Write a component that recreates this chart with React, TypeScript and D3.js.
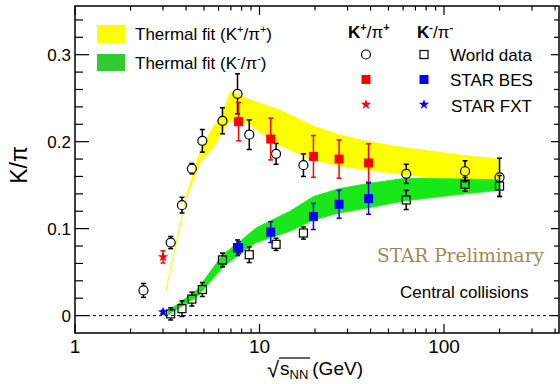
import * as d3 from "d3";

// K+/pi+ world data (open circles)
const worldKpE = [2.35, 3.3, 3.8, 4.3, 4.9, 6.3, 7.6, 8.8, 12.3, 17.3, 62.4, 130, 200];
const worldKpV = [0.029, 0.084, 0.127, 0.169, 0.201, 0.224, 0.255, 0.208, 0.186, 0.173, 0.163, 0.166, 0.159];
const worldKpErr = [0.008, 0.007, 0.009, 0.006, 0.013, 0.015, 0.023, 0.017, 0.012, 0.013, 0.011, 0.012, 0.022];

// K-/pi- world data (open squares)
const worldKmE = [3.3, 3.8, 4.3, 4.9, 6.3, 7.6, 8.8, 12.3, 17.3, 62.4, 130, 200];
const worldKmV = [0.002, 0.008, 0.019, 0.03, 0.064, 0.078, 0.07, 0.082, 0.095, 0.133, 0.151, 0.149];
const worldKmErr = [0.007, 0.009, 0.008, 0.008, 0.008, 0.009, 0.009, 0.007, 0.007, 0.011, 0.008, 0.012];

// STAR BES
const besE = [7.7, 11.5, 19.6, 27, 39];
const besKpV = [0.223, 0.203, 0.183, 0.18, 0.1755];
const besKpErr = [0.022, 0.024, 0.024, 0.022, 0.022];
const besKmV = [0.078, 0.096, 0.114, 0.128, 0.1345];
const besKmErr = [0.007, 0.012, 0.015, 0.016, 0.018];

// STAR FXT
const fxtE = [3.0];
const fxtKpV = [0.0675];
const fxtKpErr = [0.007];
const fxtKmV = [0.004];
const fxtKmErr = [0.002];

// thermal fit bands
const thermKpE = [3.1, 4.0, 4.3, 4.8, 5.6, 6.2, 6.95, 8.5, 10.5, 13, 19.6, 27, 39, 62, 130, 200];
const thermKpLo = [0.0275, 0.134, 0.152, 0.177, 0.193, 0.21, 0.224, 0.222, 0.208, 0.195, 0.179, 0.172, 0.167, 0.162, 0.155, 0.154];
const thermKpHi = [0.0285, 0.137, 0.159, 0.191, 0.217, 0.229, 0.258, 0.25, 0.243, 0.236, 0.218, 0.208, 0.2, 0.193, 0.184, 0.18];

const thermKmE = [3.2, 4.6, 6.3, 7.7, 9.6, 14.6, 19.6, 27, 39, 62, 130, 200];
const thermKmLo = [0.001, 0.022, 0.055, 0.07, 0.084, 0.097, 0.11, 0.118, 0.124, 0.132, 0.14, 0.144];
const thermKmHi = [0.005, 0.03, 0.07, 0.084, 0.101, 0.12, 0.137, 0.146, 0.152, 0.158, 0.157, 0.156];

const xMajor = [1, 10, 100];
const xMinor = [2, 3, 4, 5, 6, 7, 8, 9, 20, 30, 40, 50, 60, 70, 80, 90, 200, 300, 400];
const yMajor = [0, 0.1, 0.2, 0.3];
const yMinor = [0.02, 0.04, 0.06, 0.08, 0.12, 0.14, 0.16, 0.18, 0.22, 0.24, 0.26, 0.28, 0.32, 0.34];

const font = "'Liberation Sans', Arial, Helvetica, sans-serif";

const width = 560;
const height = 384;
const left = 75, right = 559, top = 6, bottom = 333;

const x = d3.scaleLog().domain([1, 420]).range([left, right]);
const y = d3.scaleLinear().domain([-0.02, 0.356]).range([bottom, top]);

const ErrBar = ({ e, v, err, gap, color }: { e: number; v: number; err: number; gap: number; color: string }) => {
  const cx = x(e);
  const yTop = y(v + err);
  const yBot = y(v - err);
  const cy = y(v);
  return (
    <g stroke={color} strokeWidth={1.5}>
      {cy - gap > yTop && <line x1={cx} x2={cx} y1={yTop} y2={cy - gap} />}
      {cy + gap < yBot && <line x1={cx} x2={cx} y1={cy + gap} y2={yBot} />}
      <line x1={cx - 2.5} x2={cx + 2.5} y1={yTop} y2={yTop} />
      <line x1={cx - 2.5} x2={cx + 2.5} y1={yBot} y2={yBot} />
    </g>
  );
};

const starPath = d3.symbol(d3.symbolStar).size(34)() as string;

const App = () => {
  const kpBand = thermKpE.map((e, i) => ({ e, lo: thermKpLo[i], hi: thermKpHi[i] }));
  const kmBand = thermKmE.map((e, i) => ({ e, lo: thermKmLo[i], hi: thermKmHi[i] }));
  const area = d3
    .area<{ e: number; lo: number; hi: number }>()
    .x((d) => x(d.e))
    .y0((d) => y(d.lo))
    .y1((d) => y(d.hi));

  return (
    <svg
      width={width}
      height={height}
      viewBox={`0 0 ${width} ${height}`}
      style={{ position: "absolute", left: 0, top: 0, background: "#fff" }}
      fontFamily={font}
    >
      <rect width={width} height={height} fill="#fff" />

      {/* thermal fit bands */}
      <path d={area(kpBand) ?? ""} fill="#ffff00" stroke="#ffff00" strokeWidth={0.6} />
      <path d={area(kmBand) ?? ""} fill="#18e818" stroke="#18e818" strokeWidth={0.8} />

      {/* zero line */}
      <line x1={left} x2={right} y1={y(0)} y2={y(0)} stroke="#000" strokeWidth={1} strokeDasharray="3,3" />

      {/* world data K+/pi+ */}
      {worldKpE.map((e, i) => (
        <g key={`wp${i}`}>
          <ErrBar e={e} v={worldKpV[i]} err={worldKpErr[i]} gap={4.5} color="#000" />
          <circle cx={x(e)} cy={y(worldKpV[i])} r={4.5} fill="none" stroke="#000" strokeWidth={1.2} />
        </g>
      ))}

      {/* world data K-/pi- */}
      {worldKmE.map((e, i) => (
        <g key={`wm${i}`}>
          <ErrBar e={e} v={worldKmV[i]} err={worldKmErr[i]} gap={4} color="#000" />
          <rect x={x(e) - 4} y={y(worldKmV[i]) - 4} width={8} height={8} fill="none" stroke="#000" strokeWidth={1.2} />
        </g>
      ))}

      {/* STAR BES */}
      {besE.map((e, i) => (
        <g key={`bp${i}`}>
          <ErrBar e={e} v={besKpV[i]} err={besKpErr[i]} gap={0} color="#ff0000" />
          <rect x={x(e) - 4.5} y={y(besKpV[i]) - 4.5} width={9} height={9} fill="#ff0000" />
        </g>
      ))}
      {besE.map((e, i) => (
        <g key={`bm${i}`}>
          <ErrBar e={e} v={besKmV[i]} err={besKmErr[i]} gap={0} color="#0000ff" />
          <rect x={x(e) - 4.5} y={y(besKmV[i]) - 4.5} width={9} height={9} fill="#0000ff" />
        </g>
      ))}

      {/* STAR FXT */}
      {fxtE.map((e, i) => (
        <g key={`fx${i}`}>
          <ErrBar e={e} v={fxtKpV[i]} err={fxtKpErr[i]} gap={0} color="#ff0000" />
          <path d={starPath} transform={`translate(${x(e)},${y(fxtKpV[i])})`} fill="#ff0000" />
          <ErrBar e={e} v={fxtKmV[i]} err={fxtKmErr[i]} gap={0} color="#0000ff" />
          <path d={starPath} transform={`translate(${x(e)},${y(fxtKmV[i])})`} fill="#0000ff" />
        </g>
      ))}

      {/* frame */}
      <rect x={left} y={top} width={right - left} height={bottom - top} fill="none" stroke="#000" strokeWidth={1.5} />

      {/* x ticks */}
      {xMajor.map((t) => (
        <g key={`xM${t}`} stroke="#000" strokeWidth={1.2}>
          <line x1={x(t)} x2={x(t)} y1={bottom} y2={bottom - 9} />
          <line x1={x(t)} x2={x(t)} y1={top} y2={top + 9} />
        </g>
      ))}
      {xMinor.map((t) => (
        <g key={`xm${t}`} stroke="#000" strokeWidth={1.2}>
          <line x1={x(t)} x2={x(t)} y1={bottom} y2={bottom - 4.5} />
          <line x1={x(t)} x2={x(t)} y1={top} y2={top + 4.5} />
        </g>
      ))}
      {xMajor.map((t) => (
        <text key={`xl${t}`} x={x(t)} y={353} fontSize={19} textAnchor="middle" fill="#000">
          {t}
        </text>
      ))}

      {/* y ticks */}
      {yMajor.map((t) => (
        <g key={`yM${t}`} stroke="#000" strokeWidth={1.2}>
          <line x1={left} x2={left + 14} y1={y(t)} y2={y(t)} />
          <line x1={right} x2={right - 8} y1={y(t)} y2={y(t)} />
        </g>
      ))}
      {yMinor.map((t) => (
        <g key={`ym${t}`} stroke="#000" strokeWidth={1.2}>
          <line x1={left} x2={left + 8} y1={y(t)} y2={y(t)} />
          <line x1={right} x2={right - 5} y1={y(t)} y2={y(t)} />
        </g>
      ))}
      {yMajor.map((t) => (
        <text key={`yl${t}`} x={71} y={y(t) + 6} fontSize={17} textAnchor="end" fill="#000">
          {t === 0 ? "0" : t.toFixed(1)}
        </text>
      ))}

      {/* axis titles */}
      <text transform="translate(27,165) rotate(-90)" fontSize={23} textAnchor="middle" fill="#000">
        K/π
      </text>
      <text x={267} y={377} fontSize={22} fill="#000">
        √
      </text>
      <line x1={279} x2={310} y1={358} y2={358} stroke="#000" strokeWidth={1.2} />
      <text x={280} y={375} fontSize={19} fill="#000">
        s<tspan fontSize={13} dy={4}>NN</tspan>
        <tspan dy={-4} dx={4}>(GeV)</tspan>
      </text>

      {/* legend: thermal fits */}
      <rect x={97} y={25} width={28} height={18} fill="#ffff00" />
      <text x={135} y={40} fontSize={17} fill="#000">
        Thermal fit (K<tspan fontSize={11} dy={-7}>+</tspan>
        <tspan dy={7}>/π</tspan>
        <tspan fontSize={11} dy={-7}>+</tspan>
        <tspan dy={7}>)</tspan>
      </text>
      <rect x={97} y={54} width={28} height={17} fill="#2ecc2e" />
      <text x={135} y={69} fontSize={17} fill="#000">
        Thermal fit (K<tspan fontSize={11} dy={-7}>-</tspan>
        <tspan dy={7}>/π</tspan>
        <tspan fontSize={11} dy={-7}>-</tspan>
        <tspan dy={7}>)</tspan>
      </text>

      {/* legend: data */}
      <text x={348} y={38} fontSize={17} fontWeight="bold" fill="#000">
        K<tspan fontSize={11} dy={-7}>+</tspan>
        <tspan dy={7} fontWeight="normal">/π</tspan>
        <tspan fontSize={11} dy={-7}>+</tspan>
      </text>
      <text x={417} y={38} fontSize={17} fontWeight="bold" fill="#000">
        K<tspan fontSize={11} dy={-7}>-</tspan>
        <tspan dy={7} fontWeight="normal">/π</tspan>
        <tspan fontSize={11} dy={-7}>-</tspan>
      </text>
      <circle cx={366} cy={54.5} r={4.5} fill="none" stroke="#000" strokeWidth={1.2} />
      <rect x={420} y={50.5} width={8} height={8} fill="none" stroke="#000" strokeWidth={1.2} />
      <text x={450} y={61} fontSize={17} fill="#000">World data</text>
      <rect x={361.5} y={75} width={9} height={9} fill="#ff0000" />
      <rect x={419.5} y={75} width={9} height={9} fill="#0000ff" />
      <text x={450} y={86} fontSize={17} fill="#000">STAR BES</text>
      <path d={starPath} transform="translate(366,104.5)" fill="#ff0000" />
      <path d={starPath} transform="translate(424,104.5)" fill="#0000ff" />
      <text x={451} y={111.5} fontSize={17} fill="#000">STAR FXT</text>

      {/* annotations */}
      <text x={377} y={262} fontSize={18.5} fill="#998a58" fontFamily="'DejaVu Serif', serif">
        STAR Preliminary
      </text>
      <text x={400} y={298} fontSize={17} fill="#000">Central collisions</text>
    </svg>
  );
};

export default App;
